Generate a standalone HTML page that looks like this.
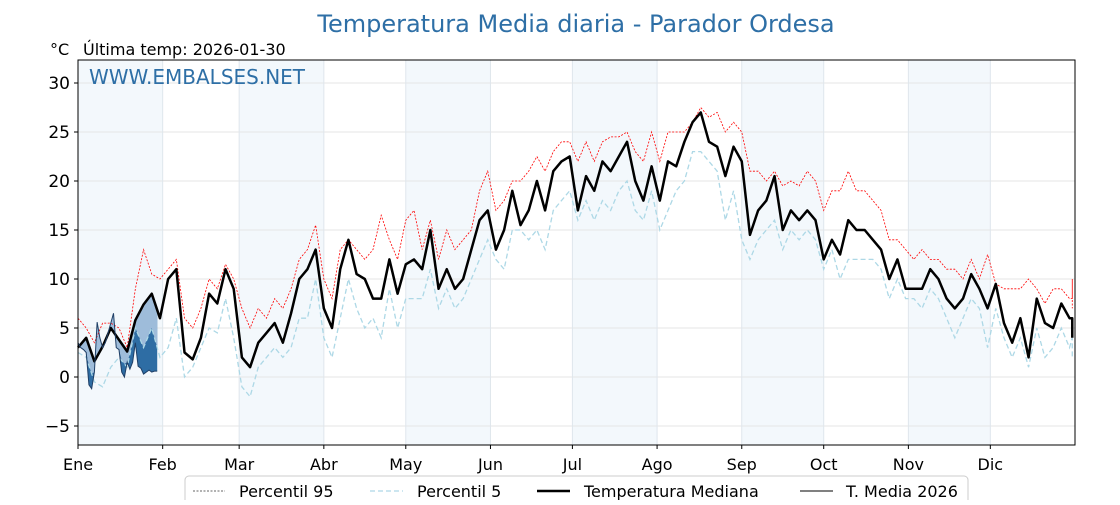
<!DOCTYPE html>
<html><head><meta charset="utf-8"><style>
html,body{margin:0;padding:0;background:#fff;}
svg text{font-family:"DejaVu Sans","Liberation Sans",sans-serif;}
</style></head><body>
<svg id="chart" width="1120" height="500" xmlns="http://www.w3.org/2000/svg">
<text x="576" y="32" text-anchor="middle" font-size="24" fill="#2e6fa6">Temperatura Media diaria - Parador Ordesa</text>
<text x="50" y="55" font-size="16" fill="#000">°C</text>
<text x="83" y="55" font-size="16" fill="#000">Última temp: 2026-01-30</text>
<g id="bands"></g>
<g id="grid"></g>
<g id="series"></g>
<rect x="78" y="60" width="997" height="385" fill="none" stroke="#000" stroke-width="1"/>
<text x="89" y="84" font-size="20" fill="#2e6fa6">WWW.EMBALSES.NET</text>
<g id="axes"></g>
<g>
<rect x="185" y="476" width="783" height="30" rx="4" fill="#fff" stroke="#ccc"/>
<line x1="193" y1="491" x2="225" y2="491" stroke="#333" stroke-width="0.8" stroke-dasharray="2,1.5"/>
<text x="239" y="497" font-size="16">Percentil 95</text>
<line x1="370" y1="491" x2="403" y2="491" stroke="#add8e6" stroke-width="1.2" stroke-dasharray="5,3"/>
<text x="417" y="497" font-size="16">Percentil 5</text>
<line x1="537" y1="491" x2="570" y2="491" stroke="#000" stroke-width="2.5"/>
<text x="584" y="497" font-size="16">Temperatura Mediana</text>
<line x1="800" y1="491" x2="833" y2="491" stroke="#000" stroke-width="1"/>
<text x="846" y="497" font-size="16">T. Media 2026</text>
</g>
</svg>
<script>
const months=["Ene","Feb","Mar","Abr","May","Jun","Jul","Ago","Sep","Oct","Nov","Dic"];
const monthStart=[0,31,59,90,120,151,181,212,243,273,304,334];
const yTicks=[-5,0,5,10,15,20,25,30];
// values every 3 days (day 0,3,...)
const median=[3,4,1.6,3.1,5,3.8,2.6,5.8,7.4,8.5,6,10,11,2.5,1.8,4,8.5,7.5,11,9,2,1,3.5,4.5,5.5,3.5,6.5,10,11,13,7,5,11,14,10.5,10,8,8,12,8.5,11.5,12,11,15,9,11,9,10,13,16,17,13,15,19,15.5,17,20,17,21,22,22.5,17,20.5,19,22,21,22.5,24,20,18,21.5,18,22,21.5,24,26,27,24,23.5,20.5,23.5,22,14.5,17,18,20.5,15,17,16,17,16,12,14,12.5,16,15,15,14,13,10,12,9,9,9,11,10,8,7,8,10.5,9,7,9.5,5.5,3.5,6,2,8,5.5,5,7.5,6,6,4];
const p95=[6,5,3.5,5.5,5.5,5,3,9,13,10.5,10,11,12,6,5,7,10,9,11.5,10,7,5,7,6,8,7,9,12,13,15.5,10,8,13,14,13,12,13,16.5,14,12,16,17,13,16,12,15,13,14,15,19,21,17,18,20,20,21,22.5,21,23,24,24,22,24,22,24,24.5,24.5,25,23,22,25,22,25,25,25,26,27.5,26.5,27,25,26,25,21,21,20,21,19.5,20,19.5,21,20,17,19,19,21,19,19,18,17,14,14,13,12,13,12,12,11,11,10,12,10,12.5,9.5,9,9,9,10,9,7.5,9,9,8,8,10,7];
const p5=[2.5,2,-0.5,-1,1,2,1,5,3,5,2,3,6,0,1,3,5,4.5,8,4,-1,-2,1,2,3,2,3,6,6,10,4,2,6,10,7,5,6,4,9,5,8,8,8,11,7,9,7,8,10,12,14,12,11,15,15,14,15,13,17,18,19,16,18,16,18,17,19,20,17,16,19,15,17,19,20,23,23,22,21,16,19,14,12,14,15,16,13,15,14,15,14,11,13,10,12,12,12,12,11,8,10,8,8,7,9,8,6,4,6,8,7,3,7,4,2,4,1,5,2,3,5,3,4,2];
// 2026 daily values Jan 1-30
const t2026=[3.5,3,2.8,2.5,-0.8,-1.2,0.5,5.6,4,3,3.5,4.5,5.5,6.5,3,2.8,0.5,0,1.5,0.8,1.5,3.5,1.1,0.9,0.3,0.5,0.7,0.5,0.6,0.6];

const NS="http://www.w3.org/2000/svg";
const X0=78,X1=1075,Y0=60,Y1=445;
const xs=d=>X0+d*(X1-X0)/365;
const ys=v=>377-v*9.8;
function mk(tag,attrs,parent){const e=document.createElementNS(NS,tag);for(const k in attrs)e.setAttribute(k,attrs[k]);document.getElementById(parent).appendChild(e);return e;}
for(let i=0;i<12;i+=2){const a=monthStart[i],b=i+1<12?monthStart[i+1]:365;
 const r=mk('rect',{x:xs(a),y:Y0,width:xs(b)-xs(a),height:Y1-Y0,fill:'#f3f8fc'},'bands');
 
 }
for(const v of yTicks){const l=mk('line',{x1:X0,x2:X1,y1:ys(v),y2:ys(v),stroke:'#e6e6e6','stroke-width':1},'grid');
 
 
 mk('line',{x1:X0-4,x2:X0,y1:ys(v),y2:ys(v),stroke:'#000'},'axes');
 const t=mk('text',{x:X0-8,y:ys(v)+6,'text-anchor':'end','font-size':17},'axes');
 t.textContent=v<0?'\u2212'+(-v):String(v);
 
 }
months.forEach((m,i)=>{const x=xs(monthStart[i]);
 const l=mk('line',{x1:x,x2:x,y1:Y0,y2:Y1,stroke:'#dfe6ec','stroke-width':1},'grid');
 
 
 mk('line',{x1:x,x2:x,y1:Y1,y2:Y1+4,stroke:'#000'},'axes');
 const t=mk('text',{x:x,y:470,'text-anchor':'middle','font-size':16},'axes');
 t.textContent=m;
 
 });
const pts=arr=>arr.map((v,i)=>xs(Math.min(i*3,364))+','+ys(v)).join(' ');
const interp=(arr,d)=>{const i=Math.floor(d/3),f=(d%3)/3;const j=Math.min(i+1,arr.length-1);return arr[i]+(arr[j]-arr[i])*f;};
let fillTop=[],fillBot=[];
t2026.forEach((v,d)=>{fillTop.push(xs(d)+','+ys(interp(median,d)));fillBot.unshift(xs(d)+','+ys(v));});
const f1=mk('polygon',{points:fillTop.concat(fillBot).join(' '),fill:'#2e6da4'},'series');


let lt=[],lb=[];
t2026.forEach((v,d)=>{const m=interp(median,d);const lo=Math.max(v,Math.min(interp(p5,d),m));lt.push(xs(d)+','+ys(m));lb.unshift(xs(d)+','+ys(lo));});
const f2=mk('polygon',{points:lt.concat(lb).join(' '),fill:'#9ebcda'},'series');


const l95=mk('polyline',{points:pts(p95),fill:'none',stroke:'#ff0000','stroke-width':0.8,'stroke-dasharray':'2,1.5'},'series');


const l5=mk('polyline',{points:pts(p5),fill:'none',stroke:'#add8e6','stroke-width':1.3,'stroke-dasharray':'5,3'},'series');


const lm=mk('polyline',{points:pts(median),fill:'none',stroke:'#000','stroke-width':2.5,'stroke-linejoin':'round'},'series');


const l26=mk('polyline',{points:t2026.map((v,d)=>xs(d)+','+ys(v)).join(' '),fill:'none',stroke:'#1f3f66','stroke-width':1},'series');


</script>
</body></html>
